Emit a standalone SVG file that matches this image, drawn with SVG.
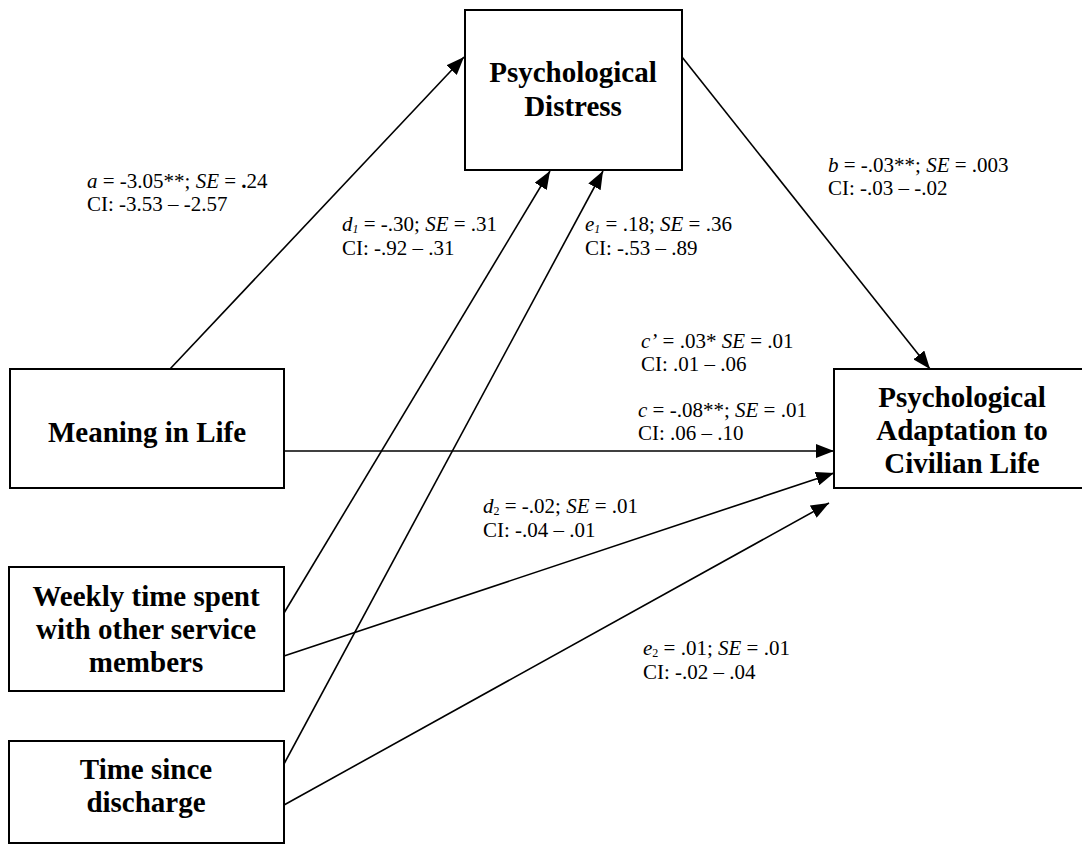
<svg xmlns="http://www.w3.org/2000/svg" width="1082" height="844" viewBox="0 0 1082 844">
  <style>
    .box { fill: #fff; stroke: #000; stroke-width: 2; }
    .title { font-family: "Liberation Serif", "Times New Roman", serif; font-weight: bold; font-size: 29px; fill: #000; text-anchor: middle; }
    .lbl { font-family: "Liberation Serif", "Times New Roman", serif; font-size: 21px; fill: #000; }
    .it { font-style: italic; }
    .sub { font-size: 12px; }
    .edge { stroke: #000; stroke-width: 1.6; fill: none; marker-end: url(#arrow); }
  </style>
  <defs>
    <marker id="arrow" markerUnits="userSpaceOnUse" markerWidth="20" markerHeight="14" refX="18" refY="7" orient="auto">
      <path d="M0,0 L18,7 L0,14 Z" fill="#000"/>
    </marker>
  </defs>
  <rect width="1082" height="844" fill="#fff"/>

  <!-- paths between constructs -->
  <g id="connectors">
    <line class="edge" x1="170" y1="369" x2="464" y2="57"/>
    <line class="edge" x1="284" y1="613" x2="550" y2="171"/>
    <line class="edge" x1="284" y1="764" x2="603" y2="171"/>
    <line class="edge" x1="682" y1="57" x2="930" y2="369"/>
    <line class="edge" x1="284" y1="451" x2="834" y2="451"/>
    <line class="edge" x1="284" y1="656" x2="834" y2="473"/>
    <line class="edge" x1="284" y1="805" x2="829" y2="503"/>
  </g>

  <!-- path coefficients -->
  <g id="labels">
    <text class="lbl" x="87" y="188"><tspan class="it">a</tspan> = -3.05**; <tspan class="it">SE</tspan> = <tspan font-weight="bold">.</tspan>24</text>
    <text class="lbl" x="87" y="211">CI: -3.53 – -2.57</text>

    <text class="lbl" x="342" y="231"><tspan class="it">d<tspan class="sub" dy="2">1</tspan></tspan><tspan dy="-2"> = -.30; </tspan><tspan class="it">SE</tspan> = .31</text>
    <text class="lbl" x="342" y="255">CI: -.92 – .31</text>

    <text class="lbl" x="585" y="231"><tspan class="it">e<tspan class="sub" dy="2">1</tspan></tspan><tspan dy="-2"> = .18; </tspan><tspan class="it">SE</tspan> = .36</text>
    <text class="lbl" x="585" y="255">CI: -.53 – .89</text>

    <text class="lbl" x="828" y="172"><tspan class="it">b</tspan> = -.03**; <tspan class="it">SE</tspan> = .003</text>
    <text class="lbl" x="828" y="195">CI: -.03 – -.02</text>

    <text class="lbl" x="641" y="348"><tspan class="it">c’</tspan> = .03* <tspan class="it">SE</tspan> = .01</text>
    <text class="lbl" x="641" y="371">CI: .01 – .06</text>

    <text class="lbl" x="638" y="417"><tspan class="it">c</tspan> = -.08**; <tspan class="it">SE</tspan> = .01</text>
    <text class="lbl" x="638" y="440">CI: .06 – .10</text>

    <text class="lbl" x="483" y="513"><tspan class="it">d</tspan><tspan class="sub" dy="2">2</tspan><tspan dy="-2"> = -.02; </tspan><tspan class="it">SE</tspan> = .01</text>
    <text class="lbl" x="483" y="537">CI: -.04 – .01</text>

    <text class="lbl" x="643" y="655"><tspan class="it">e</tspan><tspan class="sub" dy="2">2</tspan><tspan dy="-2"> = .01; </tspan><tspan class="it">SE</tspan> = .01</text>
    <text class="lbl" x="643" y="679">CI: -.02 – .04</text>
  </g>

  <g id="distress">
    <rect class="box" x="465" y="10" width="217" height="160"/>
    <text class="title" x="573" y="82">Psychological</text>
    <text class="title" x="573" y="116">Distress</text>
  </g>

  <g id="meaning">
    <rect class="box" x="10" y="369" width="274" height="119"/>
    <text class="title" x="147" y="442">Meaning in Life</text>
  </g>

  <g id="weekly-time">
    <rect class="box" x="9" y="567" width="275" height="124"/>
    <text class="title" x="146" y="606">Weekly time spent</text>
    <text class="title" x="146" y="639">with other service</text>
    <text class="title" x="146" y="672">members</text>
  </g>

  <g id="time-since-discharge">
    <rect class="box" x="9" y="741" width="275" height="102"/>
    <text class="title" x="146" y="779">Time since</text>
    <text class="title" x="146" y="812">discharge</text>
  </g>

  <g id="adaptation">
    <rect class="box" x="834" y="369" width="252" height="119"/>
    <text class="title" x="962" y="407">Psychological</text>
    <text class="title" x="962" y="440">Adaptation to</text>
    <text class="title" x="962" y="473">Civilian Life</text>
  </g>
</svg>
